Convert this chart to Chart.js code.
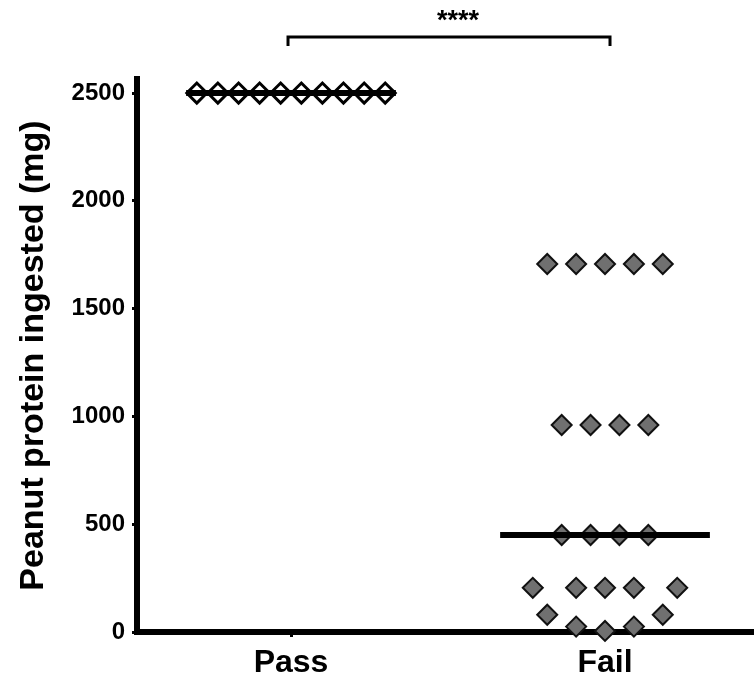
<!DOCTYPE html>
<html lang="en">
<head>
  <meta charset="UTF-8">
  <title>Peanut protein ingested</title>
  <script src="https://cdn.jsdelivr.net/npm/chart.js@4.4.1/dist/chart.umd.min.js"></script>
  <style>
    html, body { margin: 0; padding: 0; background: #fff; overflow: hidden; }
    #myChart { display: block; }
  </style>
</head>
<body>
  <canvas id="myChart" width="754" height="682"></canvas>
  <script>
    // groups on the x axis (0 = Pass, 1 = Fail)
    const categories = ['Pass', 'Fail'];
    const yTicks = [0, 500, 1000, 1500, 2000, 2500];

    // Pass group: everyone reached the top dose
    const passValues = [2500, 2500, 2500, 2500, 2500, 2500, 2500, 2500, 2500, 2500];
    const passJitter = [-0.30, -0.233, -0.167, -0.10, -0.033, 0.033, 0.10, 0.167, 0.233, 0.30];
    const passMedian = 2500;

    // Fail group
    const failValues = [1707, 1707, 1707, 1707, 1707,
                        960, 960, 960, 960,
                        450, 450, 450, 450,
                        205, 205, 205, 205, 205,
                        80, 80,
                        25, 25,
                        5];
    const failJitter = [-0.184, -0.092, 0, 0.092, 0.184,
                        -0.138, -0.046, 0.046, 0.138,
                        -0.138, -0.046, 0.046, 0.138,
                        -0.23, -0.092, 0, 0.092, 0.23,
                        -0.184, 0.184,
                        -0.092, 0.092,
                        0];
    const failMedian = 450;

    const medianHalfWidth = 0.334;
    const significance = '****';

    function points(group, values, jitter) {
      return values.map((v, i) => ({ x: group + jitter[i], y: v }));
    }
    function medianLine(group, value) {
      return [{ x: group - medianHalfWidth, y: value }, { x: group + medianHalfWidth, y: value }];
    }

    const FONT = "'Liberation Sans', Arial, Helvetica, sans-serif";

    // bracket with stars above both groups
    const bracketPlugin = {
      id: 'bracket',
      afterDraw(chart) {
        const ctx = chart.ctx;
        const xs = chart.scales.x;
        const x0 = xs.getPixelForValue(0) - 3;
        const x1 = xs.getPixelForValue(1) + 5;
        const y = chart.chartArea.top - 42;
        ctx.save();
        ctx.strokeStyle = '#000';
        ctx.lineWidth = 3;
        ctx.beginPath();
        ctx.moveTo(x0, y + 9);
        ctx.lineTo(x0, y);
        ctx.lineTo(x1, y);
        ctx.lineTo(x1, y + 9);
        ctx.stroke();
        ctx.fillStyle = '#000';
        ctx.font = 'bold 27px ' + FONT;
        ctx.textAlign = 'center';
        ctx.textBaseline = 'middle';
        ctx.fillText(significance, (x0 + x1) / 2 + 9, y - 15);
        ctx.restore();
      }
    };

    const ctx = document.getElementById('myChart').getContext('2d');
    new Chart(ctx, {
      type: 'scatter',
      data: {
        datasets: [
          {
            type: 'line',
            data: medianLine(0, passMedian),
            borderColor: '#000',
            borderWidth: 6,
            pointRadius: 0,
            order: 0,
            clip: false
          },
          {
            type: 'line',
            data: medianLine(1, failMedian),
            borderColor: '#000',
            borderWidth: 6,
            pointRadius: 0,
            order: 0,
            clip: false
          },
          {
            label: 'Pass',
            data: points(0, passValues, passJitter),
            pointStyle: 'rectRot',
            pointRadius: 10,
            backgroundColor: '#fff',
            borderColor: '#000',
            borderWidth: 3,
            order: 1,
            clip: false
          },
          {
            label: 'Fail',
            data: points(1, failValues, failJitter),
            pointStyle: 'rectRot',
            pointRadius: 10,
            backgroundColor: '#707070',
            borderColor: '#111',
            borderWidth: 2,
            order: 1,
            clip: false
          }
        ]
      },
      options: {
        responsive: false,
        animation: false,
        layout: { autoPadding: false, padding: { top: 79, right: 0, bottom: 0, left: 0 } },
        plugins: {
          legend: { display: false },
          tooltip: { enabled: false }
        },
        scales: {
          x: {
            type: 'linear',
            min: -0.4905,
            max: 1.4745,
            afterBuildTicks(scale) {
              scale.ticks = categories.map((c, i) => ({ value: i }));
            },
            afterFit(scale) {
              scale.height = 50;
              scale.paddingLeft = 0;
              scale.paddingRight = 0;
            },
            ticks: {
              callback: (v) => categories[v],
              color: '#000',
              padding: 7,
              maxRotation: 0,
              font: { family: FONT, size: 32, weight: 'bold' }
            },
            grid: {
              drawOnChartArea: false,
              drawTicks: true,
              tickLength: 5,
              tickWidth: 3,
              tickColor: (c) => (c.tick && c.tick.value === 0 ? '#000' : 'rgba(0,0,0,0)')
            },
            border: { display: true, color: '#000', width: 6 }
          },
          y: {
            min: 0,
            max: 2565,
            afterBuildTicks(scale) {
              scale.ticks = yTicks.map((v) => ({ value: v }));
            },
            afterFit(scale) {
              scale.width = 137;
              scale.paddingTop = 0;
              scale.paddingBottom = 0;
            },
            ticks: {
              callback: (v) => String(v),
              color: '#000',
              padding: 7,
              font: { family: FONT, size: 24, weight: 'bold' }
            },
            grid: {
              drawOnChartArea: false,
              drawTicks: true,
              tickLength: 5,
              tickWidth: 3,
              tickColor: '#000'
            },
            border: { display: true, color: '#000', width: 6 },
            title: {
              display: true,
              text: 'Peanut protein ingested (mg)',
              color: '#000',
              padding: { top: 13, bottom: 0 },
              font: { family: FONT, size: 34, weight: 'bold' }
            }
          }
        }
      },
      plugins: [bracketPlugin]
    });
  </script>
</body>
</html>
